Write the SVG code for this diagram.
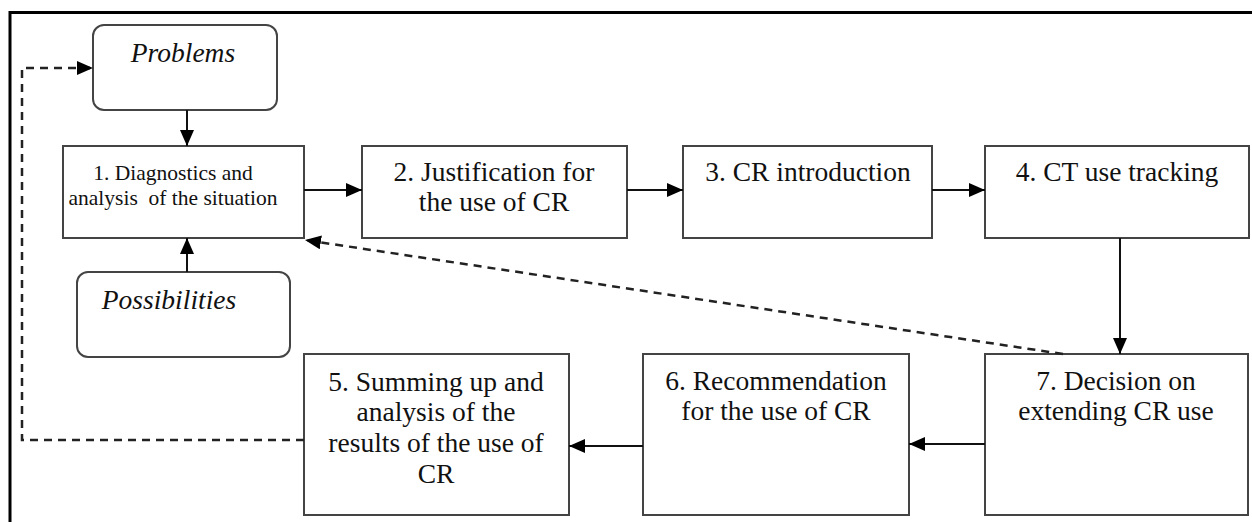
<svg xmlns="http://www.w3.org/2000/svg" width="1252" height="522" viewBox="0 0 1252 522">
<style>
.box{fill:#fff;stroke:#444;stroke-width:2}
.t{font-family:"Liberation Serif","Times New Roman",serif;font-size:27.5px;fill:#111;text-anchor:middle}
.t1{font-family:"Liberation Serif","Times New Roman",serif;font-size:21.5px;fill:#111;text-anchor:middle;white-space:pre}
.ti{font-family:"Liberation Serif","Times New Roman",serif;font-style:italic;font-size:27.5px;fill:#111;text-anchor:middle}
.c{fill:none;stroke:#111;stroke-width:2}
.d{fill:none;stroke:#222;stroke-width:2.5;stroke-dasharray:8 6}
</style>
<defs>
<marker id="ah" viewBox="0 0 16 14" refX="16" refY="7" markerWidth="16" markerHeight="14" markerUnits="userSpaceOnUse" orient="auto">
<path d="M0,0 L16,7 L0,14 z" fill="#000"/>
</marker>
</defs>
<rect width="1252" height="522" fill="#fff"/>
<path d="M10,522 L10,12.5 L1252,12.5" fill="none" stroke="#000" stroke-width="3"/>

<g id="problems">
<rect class="box" x="93" y="25" width="184" height="85" rx="11"/>
<text class="ti" x="183" y="62">Problems</text>
</g>
<g id="possibilities">
<rect class="box" x="77" y="272" width="213" height="85" rx="11"/>
<text class="ti" x="169" y="309">Possibilities</text>
</g>
<g id="n1">
<rect class="box" x="63" y="146" width="241" height="92"/>
<text class="t1" x="173" y="180">1. Diagnostics and</text>
<text class="t1" x="173" y="205">analysis  of the situation</text>
</g>
<g id="n2">
<rect class="box" x="362" y="146" width="265" height="92"/>
<text class="t" x="494" y="181">2. Justification for</text>
<text class="t" x="494" y="211">the use of CR</text>
</g>
<g id="n3">
<rect class="box" x="683" y="146" width="249" height="92"/>
<text class="t" x="808" y="181">3. CR introduction</text>
</g>
<g id="n4">
<rect class="box" x="985" y="146" width="264" height="92"/>
<text class="t" x="1117" y="181">4. CT use tracking</text>
</g>
<g id="n7">
<rect class="box" x="985" y="354" width="263" height="161"/>
<text class="t" x="1116" y="390">7. Decision on</text>
<text class="t" x="1116" y="420">extending CR use</text>
</g>
<g id="n6">
<rect class="box" x="643" y="354" width="266" height="161"/>
<text class="t" x="776" y="390">6. Recommendation</text>
<text class="t" x="776" y="420">for the use of CR</text>
</g>
<g id="n5">
<rect class="box" x="304" y="354" width="265" height="161"/>
<text class="t" x="436" y="391">5. Summing up and</text>
<text class="t" x="436" y="421">analysis of the</text>
<text class="t" x="436" y="452">results of the use of</text>
<text class="t" x="436" y="483">CR</text>
</g>

<g id="connectors">
<line class="c" x1="187" y1="110" x2="187" y2="146" marker-end="url(#ah)"/>
<line class="c" x1="187" y1="272" x2="187" y2="238" marker-end="url(#ah)"/>
<line class="c" x1="304" y1="190" x2="362" y2="190" marker-end="url(#ah)"/>
<line class="c" x1="627" y1="190" x2="683" y2="190" marker-end="url(#ah)"/>
<line class="c" x1="932" y1="190" x2="985" y2="190" marker-end="url(#ah)"/>
<line class="c" x1="1120" y1="238" x2="1120" y2="354" marker-end="url(#ah)"/>
<line class="c" x1="985" y1="444" x2="909" y2="444" marker-end="url(#ah)"/>
<line class="c" x1="643" y1="446" x2="569" y2="446" marker-end="url(#ah)"/>
<path class="d" d="M304,440 L22,440 L22,68 L93,68" marker-end="url(#ah)"/>
<line class="d" x1="1063" y1="354" x2="305" y2="240" marker-end="url(#ah)"/>
</g>
</svg>
